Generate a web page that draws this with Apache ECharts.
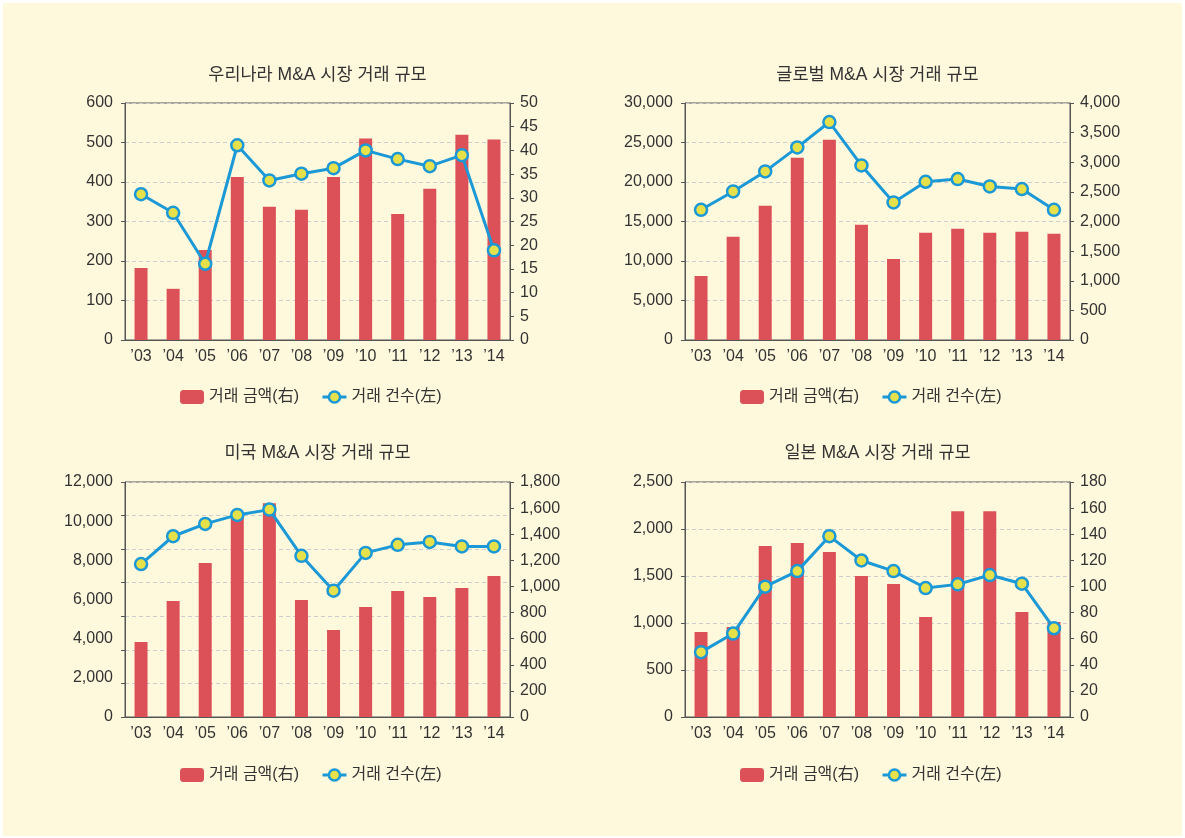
<!DOCTYPE html>
<html>
<head>
	<meta charset="utf-8">
	<script src="https://cdn.jsdelivr.net/npm/echarts@6/dist/echarts.min.js"></script>
	<style>
		body { margin: 0; background: #fff; }
		#main { position: absolute; left: 3px; top: 3px; width: 1179px; height: 833px; }
	</style>
</head>
<body>
	<div id="main"></div>
	<script type="text/javascript">
		// 연도
		var years = ['’03', '’04', '’05', '’06', '’07', '’08', '’09', '’10', '’11', '’12', '’13', '’14'];

		// 우리나라 (금액: 오른쪽 축, 건수: 왼쪽 축)
		var korAmount = [15.2, 10.8, 19.0, 34.4, 28.1, 27.5, 34.4, 42.5, 26.6, 31.9, 43.3, 42.3];
		var korCount = [369, 322, 193, 493, 404, 421, 435, 480, 458, 440, 468, 227];

		// 글로벌
		var gloAmount = [1082, 1741, 2265, 3076, 3380, 1944, 1369, 1809, 1876, 1809, 1825, 1792];
		var gloCount = [16480, 18800, 21340, 24380, 27590, 22100, 17410, 20030, 20370, 19440, 19100, 16480];

		// 미국
		var usAmount = [575, 889, 1179, 1530, 1637, 896, 667, 843, 965, 919, 988, 1080];
		var usCount = [7810, 9230, 9860, 10320, 10590, 8230, 6450, 8380, 8790, 8940, 8710, 8710];

		// 일본
		var jpAmount = [65.2, 69.0, 130.9, 133.2, 126.3, 108.0, 101.8, 76.6, 157.6, 157.6, 80.5, 72.8];
		var jpCount = [690, 888, 1386, 1552, 1924, 1665, 1552, 1372, 1411, 1510, 1418, 944];

		var titles = ['우리나라 M&A 시장 거래 규모', '글로벌 M&A 시장 거래 규모', '미국 M&A 시장 거래 규모', '일본 M&A 시장 거래 규모'];
		var amountName = '거래 금액(右)';
		var countName = '거래 건수(左)';

		var font = "'Liberation Sans', 'Noto Sans CJK KR', sans-serif";
		var textColor = '#333';
		var axisColor = '#555';
		var lineColor = '#1b98d6';

		// 패널 위치
		var grids = [
			{ left: 122, top: 100, width: 385, height: 237 },
			{ left: 682, top: 100, width: 385, height: 237 },
			{ left: 122, top: 479, width: 385, height: 235 },
			{ left: 682, top: 479, width: 385, height: 235 }
		];
		var leftAxes = [[600, 100], [30000, 5000], [12000, 2000], [2500, 500]];
		var rightAxes = [[50, 5], [4000, 500], [1800, 200], [180, 20]];
		var amounts = [korAmount, gloAmount, usAmount, jpAmount];
		var counts = [korCount, gloCount, usCount, jpCount];

		var option = {
			backgroundColor: '#fef9dc',
			textStyle: { fontFamily: font },
			title: [], legend: [], grid: [], xAxis: [], yAxis: [], series: []
		};

		for (var i = 0; i < 4; i++) {
			var g = grids[i];
			option.grid.push({
				left: g.left, top: g.top, width: g.width, height: g.height,
				show: true, borderColor: axisColor, borderWidth: 1
			});
			option.title.push({
				text: titles[i], left: g.left + g.width / 2, textAlign: 'center',
				top: i < 2 ? 63 : 441, padding: 0,
				textStyle: { fontSize: 17.5, fontWeight: 'normal', color: textColor, fontFamily: font }
			});
			option.legend.push({
				left: i % 2 == 0 ? 177 : 737, top: i < 2 ? 386 : 764, padding: 0,
				itemWidth: 24, itemHeight: 14, itemGap: 22,
				textStyle: { fontSize: 16, color: textColor, fontFamily: font },
				data: [
					{ name: amountName },
					{ name: countName, lineStyle: { width: 3, color: lineColor },
						itemStyle: { color: '#e6e14a', borderColor: lineColor, borderWidth: 2.5 } }
				]
			});
			option.xAxis.push({
				type: 'category', gridIndex: i, data: years,
				axisLine: { lineStyle: { color: axisColor } },
				axisTick: { length: 4, lineStyle: { color: axisColor } },
				axisLabel: { fontSize: 16, color: textColor, margin: 9, fontFamily: font }
			});
			var yl = {
				type: 'value', gridIndex: i, position: 'left',
				min: 0, max: leftAxes[i][0], interval: leftAxes[i][1],
				axisLine: { show: true, lineStyle: { color: axisColor } },
				axisTick: { show: true, length: 4, lineStyle: { color: axisColor } },
				axisLabel: { fontSize: 16, color: textColor, margin: 12, fontFamily: font },
				splitLine: { show: true, lineStyle: { color: '#cdcdcd', type: [4, 3] } }
			};
			if (i == 2) {
				// 미국 패널: 눈금선이 라벨과 다른 간격
				yl.axisTick = { show: false };
				yl.splitLine = { show: false };
			}
			option.yAxis.push(yl);
			option.yAxis.push({
				type: 'value', gridIndex: i, position: 'right',
				min: 0, max: rightAxes[i][0], interval: rightAxes[i][1],
				axisLine: { show: true, lineStyle: { color: axisColor } },
				axisTick: { show: true, length: 4, lineStyle: { color: axisColor } },
				axisLabel: { fontSize: 16, color: textColor, margin: 10, fontFamily: font },
				splitLine: { show: false }
			});
			option.series.push({
				name: amountName, type: 'bar', xAxisIndex: i, yAxisIndex: i * 2 + 1,
				data: amounts[i], barWidth: 13,
				itemStyle: { color: '#dc5058' }
			});
			option.series.push({
				name: countName, type: 'line', xAxisIndex: i, yAxisIndex: i * 2,
				data: counts[i], z: 5,
				symbol: 'circle', symbolSize: 12,
				lineStyle: { color: lineColor, width: 3 },
				itemStyle: { color: '#e6e14a', borderColor: lineColor, borderWidth: 2.5 }
			});
		}

		// 미국 패널 보조 눈금 (7등분)
		option.yAxis.push({
			type: 'value', gridIndex: 2, position: 'left', min: 0, max: 7, interval: 1,
			axisLine: { show: false },
			axisTick: { show: true, length: 4, lineStyle: { color: axisColor } },
			axisLabel: { show: false },
			splitLine: { show: true, lineStyle: { color: '#cdcdcd', type: [4, 3] } }
		});

		var myChart = echarts.init(document.getElementById('main'));
		myChart.setOption(option);
	</script>
</body>
</html>
